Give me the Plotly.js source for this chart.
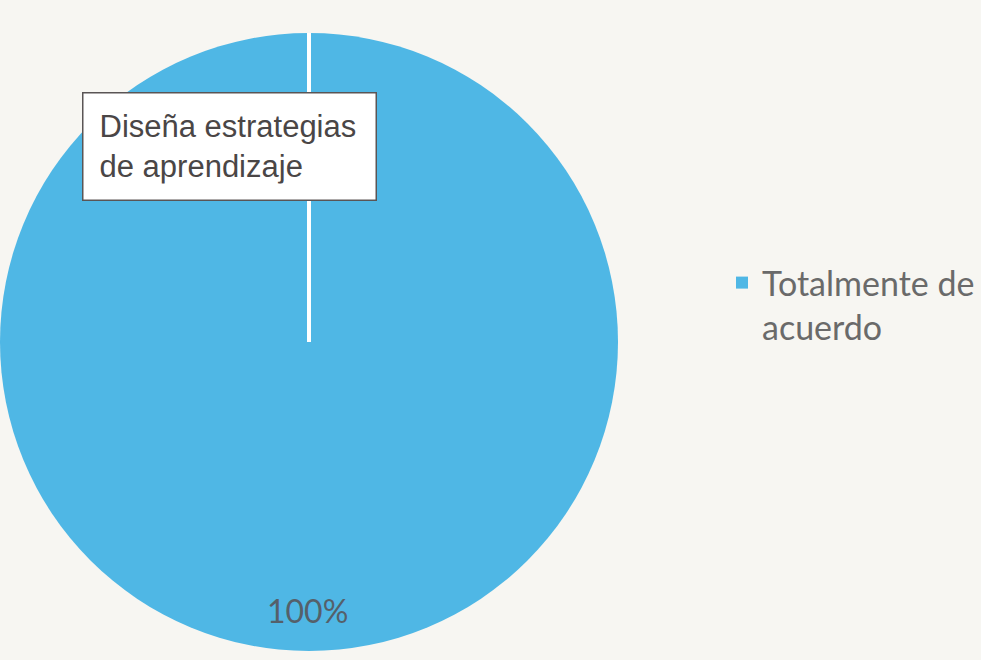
<!DOCTYPE html>
<html>
<head>
<meta charset="utf-8">
<script src="https://cdn.plot.ly/plotly-3.0.1.min.js"></script>
<style>html,body{margin:0;padding:0;background:#f7f6f2;}</style>
</head>
<body>
<div id="chart" style="width:981px;height:660px;"></div>
<script>
const categories = ["Totalmente de<br>acuerdo"];
const values = [100];
const chartTitle = "Diseña estrategias<br>de aprendizaje";

const total = values.reduce((a, b) => a + b, 0);
const pctText = Math.round(values[0] / total * 100) + "%";

const W = 981, H = 660;
const cx = 309, cy = 342, r = 309;

const data = [{
  type: "pie",
  labels: categories,
  values: values,
  sort: false,
  direction: "clockwise",
  rotation: 0,
  marker: { colors: ["#4fb7e5"], line: { width: 0 } },
  textinfo: "none",
  hoverinfo: "label+percent",
  domain: { x: [0, (cx + r) / W], y: [1 - (cy + r) / H, 1 - (cy - r) / H] }
}];

const layout = {
  width: W, height: H,
  margin: { l: 0, r: 0, t: 0, b: 0 },
  paper_bgcolor: "#f7f6f2",
  plot_bgcolor: "#f7f6f2",
  showlegend: true,
  legend: {
    x: 722 / W, xanchor: "left",
    y: 1 - 254 / H, yanchor: "top",
    valign: "top",
    font: { family: "Lato, 'Open Sans', sans-serif", size: 34, color: "#6a6a6a" },
    bgcolor: "rgba(0,0,0,0)"
  },
  shapes: [{
    type: "line", xref: "paper", yref: "paper",
    x0: cx / W, x1: cx / W, y0: 1 - cy / H, y1: 1 - (cy - r) / H,
    line: { color: "#ffffff", width: 4 }
  }],
  annotations: [
    {
      text: chartTitle, showarrow: false, xref: "paper", yref: "paper",
      x: 82 / W, xanchor: "left", y: 1 - 92 / H, yanchor: "top",
      align: "left", valign: "middle", width: 260, height: 74, borderpad: 16,
      bgcolor: "#ffffff", bordercolor: "#5a5555", borderwidth: 1.5,
      font: { family: "'Liberation Sans', Arial, sans-serif", size: 31, color: "#4a4646" }
    },
    {
      text: pctText, showarrow: false, xref: "paper", yref: "paper",
      x: 307 / W, xanchor: "center", y: 1 - 610 / H, yanchor: "middle",
      font: { family: "Lato, 'Open Sans', sans-serif", size: 32, color: "#55606a" }
    }
  ]
};

Plotly.newPlot("chart", data, layout, { displayModeBar: false, staticPlot: true });
</script>
</body>
</html>
